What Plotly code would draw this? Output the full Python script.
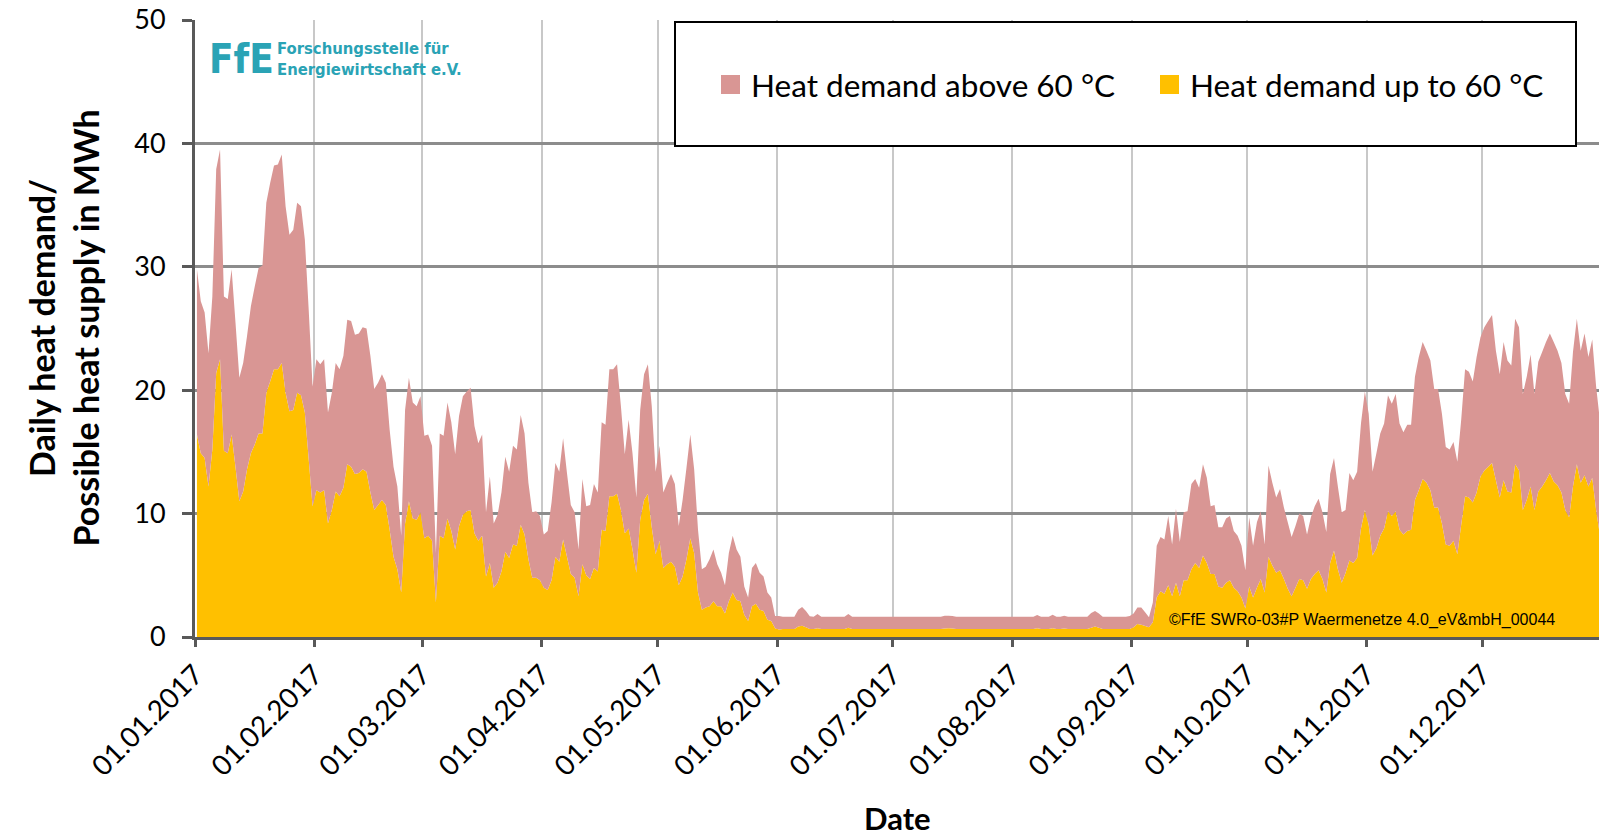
import pandas as pd
import plotly.graph_objects as go

# ---------------------------------------------------------------------------
# Daily heat demand 2017 in MWh, split by supply temperature (one list per month)
# ---------------------------------------------------------------------------
upto60_jan = [16.4, 14.9, 14.5, 12.2, 15.2, 21.4, 22.5, 15.1, 14.9, 16.4, 13.8, 11.0, 11.8, 13.6, 14.9, 15.6,
              16.5, 16.5, 19.8, 20.7, 21.7, 21.7, 22.2, 19.8, 18.3, 18.4, 19.8, 19.6, 18.2, 14.4, 10.6]
upto60_feb = [11.9, 11.7, 11.9, 9.2, 10.3, 11.8, 11.4, 12.1, 14.0, 13.8, 13.2, 13.3, 13.6, 13.4, 11.7, 10.3,
              10.7, 11.1, 10.7, 8.7, 6.5, 5.5, 3.6, 9.2, 11.0, 9.6, 9.5, 10.1]
upto60_mar = [8.0, 8.2, 7.8, 2.8, 8.2, 8.0, 9.6, 8.6, 7.1, 9.0, 9.9, 10.2, 10.3, 8.4, 7.8, 8.2,
              4.9, 6.0, 4.0, 4.4, 5.3, 6.9, 6.4, 7.5, 7.4, 9.1, 8.3, 6.3, 4.8, 4.8, 4.6]
upto60_apr = [4.0, 3.8, 4.6, 6.5, 6.1, 7.9, 6.5, 5.1, 4.8, 3.3, 5.9, 5.0, 4.7, 5.6, 5.3, 8.7,
              8.6, 11.4, 11.4, 11.6, 10.3, 8.4, 8.8, 7.1, 5.2, 9.5, 11.1, 11.6, 8.9, 6.7]
upto60_may = [7.8, 5.6, 5.9, 6.1, 5.7, 4.2, 4.9, 6.3, 8.0, 6.8, 3.6, 2.2, 2.4, 2.5, 2.9, 2.5,
              2.5, 1.9, 2.9, 3.6, 3.0, 2.9, 1.8, 1.3, 2.5, 2.7, 2.2, 2.1, 1.4, 1.3, 0.7]
upto60_jun = [0.6, 0.65, 0.65, 0.65, 0.65, 0.85, 0.92, 0.8, 0.65, 0.65, 0.7, 0.65, 0.65, 0.65, 0.65, 0.65,
              0.65, 0.65, 0.75, 0.65, 0.65, 0.65, 0.65, 0.65, 0.65, 0.65, 0.65, 0.65, 0.65, 0.65]
upto60_jul = [0.65, 0.65, 0.65, 0.65, 0.65, 0.65, 0.65, 0.65, 0.65, 0.65, 0.65, 0.65, 0.65, 0.68, 0.7, 0.68,
              0.65, 0.65, 0.65, 0.65, 0.65, 0.65, 0.65, 0.65, 0.65, 0.65, 0.65, 0.65, 0.65, 0.65, 0.65]
upto60_aug = [0.65, 0.65, 0.65, 0.65, 0.65, 0.65, 0.7, 0.65, 0.65, 0.65, 0.7, 0.65, 0.65, 0.68, 0.65, 0.65,
              0.65, 0.65, 0.65, 0.65, 0.75, 0.86, 0.75, 0.65, 0.65, 0.65, 0.65, 0.65, 0.65, 0.65, 0.65]
upto60_sep = [0.8, 1.05, 1.0, 0.9, 0.8, 1.2, 3.2, 3.7, 3.5, 4.2, 3.3, 4.4, 3.3, 4.6, 4.6, 5.5,
              6.0, 5.6, 6.6, 6.0, 5.1, 5.1, 4.1, 4.0, 4.4, 4.6, 4.0, 3.7, 3.2, 2.3]
upto60_oct = [4.1, 3.2, 4.0, 4.7, 3.6, 6.5, 5.8, 5.2, 5.4, 4.7, 3.9, 3.3, 4.0, 4.7, 4.6, 3.9,
              4.7, 5.1, 5.4, 4.7, 3.6, 6.0, 7.0, 5.5, 4.4, 5.2, 6.2, 6.0, 6.4, 8.8, 10.3]
upto60_nov = [9.1, 6.6, 7.2, 8.2, 8.8, 10.2, 9.8, 10.2, 8.7, 8.3, 8.6, 8.7, 11.1, 11.9, 12.8, 12.5,
              11.9, 10.5, 10.5, 9.2, 7.5, 7.4, 7.8, 6.7, 9.1, 11.4, 11.3, 10.9, 11.7, 13.0]
upto60_dec = [13.5, 13.8, 14.1, 12.7, 11.3, 12.7, 11.8, 11.7, 14.0, 13.5, 10.3, 11.1, 12.2, 10.3, 11.8, 12.2,
              12.7, 13.3, 12.6, 12.3, 11.7, 10.3, 9.7, 12.2, 14.0, 12.5, 13.1, 12.2, 12.9, 10.3, 8.2]

above60_jan = [13.4, 12.3, 11.8, 10.8, 12.4, 16.5, 17.0, 12.5, 12.5, 13.4, 11.7, 10.0, 10.4, 10.8, 11.9, 12.8,
               13.4, 13.6, 15.4, 16.1, 16.5, 16.6, 16.9, 15.1, 14.3, 14.6, 15.4, 15.3, 14.0, 12.1, 9.7]
above60_feb = [10.6, 10.4, 10.6, 9.0, 9.5, 10.4, 10.3, 10.7, 11.7, 11.8, 11.3, 11.3, 11.5, 11.6, 11.1, 9.8,
               9.9, 10.2, 9.9, 8.1, 7.3, 6.7, 4.6, 9.2, 10.0, 9.4, 9.2, 9.4]
above60_mar = [8.3, 8.2, 7.7, 4.0, 8.3, 8.3, 9.4, 8.8, 7.7, 8.9, 9.6, 9.7, 9.9, 8.7, 7.9, 8.2,
               5.2, 7.0, 5.2, 5.5, 6.4, 7.7, 7.0, 8.0, 7.8, 8.9, 8.2, 6.2, 5.3, 5.4, 5.2]
above60_apr = [4.3, 4.8, 6.3, 7.6, 7.3, 8.2, 6.8, 5.6, 5.3, 3.8, 6.9, 5.6, 6.0, 6.8, 6.4, 8.7,
               8.6, 10.3, 10.3, 10.5, 8.4, 6.4, 8.8, 7.8, 6.1, 8.9, 10.2, 10.5, 9.8, 6.7]
above60_may = [7.7, 6.1, 6.6, 7.1, 6.7, 4.8, 6.2, 7.4, 8.4, 6.8, 5.1, 3.3, 3.3, 3.8, 4.2, 3.4,
               2.7, 2.3, 3.9, 4.6, 4.1, 3.6, 2.3, 1.9, 3.1, 3.3, 3.0, 2.8, 2.2, 1.9, 1.0]
above60_jun = [1.1, 1.0, 1.0, 1.0, 1.0, 1.35, 1.52, 1.3, 1.03, 1.0, 1.17, 1.0, 1.0, 1.0, 1.0, 1.0,
               1.0, 1.0, 1.12, 1.0, 1.0, 1.0, 1.0, 1.0, 1.0, 1.0, 1.0, 1.0, 1.0, 1.0]
above60_jul = [1.0, 1.0, 1.0, 1.0, 1.0, 1.0, 1.0, 1.0, 1.0, 1.0, 1.0, 1.0, 1.0, 1.05, 1.03, 1.03,
               1.0, 1.0, 1.0, 1.0, 1.0, 1.0, 1.0, 1.0, 1.0, 1.0, 1.0, 1.0, 1.0, 1.0, 1.0]
above60_aug = [1.0, 1.0, 1.0, 1.0, 1.0, 1.0, 1.09, 1.0, 1.0, 1.0, 1.1, 1.0, 1.0, 1.05, 1.0, 1.0,
               1.0, 1.0, 1.0, 1.0, 1.2, 1.25, 1.15, 1.0, 1.0, 1.0, 1.0, 1.0, 1.0, 1.0, 1.05]
above60_sep = [1.1, 1.35, 1.4, 1.1, 0.8, 1.6, 4.2, 4.4, 4.4, 5.6, 4.2, 6.0, 4.4, 5.5, 5.6, 6.9,
               6.8, 6.5, 7.4, 6.9, 5.5, 5.6, 4.8, 4.9, 5.2, 5.2, 4.6, 4.5, 4.2, 3.1]
above60_oct = [5.6, 4.2, 5.3, 5.5, 3.9, 7.4, 6.7, 6.1, 6.6, 5.8, 5.4, 4.8, 5.0, 5.3, 5.2, 4.4,
               5.0, 5.5, 5.8, 5.4, 4.9, 7.2, 7.5, 6.7, 5.7, 5.1, 7.1, 6.7, 7.0, 8.5, 9.6]
above60_nov = [9.0, 6.8, 7.7, 8.3, 8.5, 9.4, 9.1, 9.5, 8.6, 8.3, 8.6, 8.5, 10.0, 10.8, 11.1, 10.7,
               10.5, 9.6, 9.6, 8.9, 7.9, 7.8, 8.0, 7.5, 8.5, 10.3, 10.2, 9.8, 11.0, 11.3]
above60_dec = [11.6, 11.8, 12.0, 10.5, 10.0, 11.2, 10.6, 10.3, 11.8, 11.6, 9.4, 10.0, 10.7, 9.4, 10.5, 10.9,
               11.2, 11.3, 11.3, 10.9, 10.5, 9.4, 9.2, 10.9, 11.8, 10.7, 11.5, 10.5, 11.2, 10.0, 9.3]

month_ticks = ["2017-01-01", "2017-02-01", "2017-03-01", "2017-04-01", "2017-05-01", "2017-06-01",
               "2017-07-01", "2017-08-01", "2017-09-01", "2017-10-01", "2017-11-01", "2017-12-01"]
month_labels = ["01.01.2017", "01.02.2017", "01.03.2017", "01.04.2017", "01.05.2017", "01.06.2017",
                "01.07.2017", "01.08.2017", "01.09.2017", "01.10.2017", "01.11.2017", "01.12.2017"]
y_ticks = [0, 10, 20, 30, 40, 50]

series_names = ["Heat demand above 60 °C", "Heat demand up to 60 °C"]

upto60 = (upto60_jan + upto60_feb + upto60_mar + upto60_apr + upto60_may + upto60_jun
          + upto60_jul + upto60_aug + upto60_sep + upto60_oct + upto60_nov + upto60_dec)
above60 = (above60_jan + above60_feb + above60_mar + above60_apr + above60_may + above60_jun
           + above60_jul + above60_aug + above60_sep + above60_oct + above60_nov + above60_dec)

# each daily value sits in the middle of its day
days = pd.date_range("2017-01-01 12:00", periods=len(upto60), freq="D")

# ---------------------------------------------------------------------------
# Layout helpers (pixel -> paper coordinates)
# ---------------------------------------------------------------------------
W, H = 1599, 836
ML, MR, MT, MB = 195, 0, 20, 199
PW, PH = W - ML - MR, H - MT - MB


def px(x):
    return (x - ML) / PW


def py(y):
    return (H - MB - y) / PH


FONT = "Lato, 'Open Sans', sans-serif"
LOGO_FONT = "'Liberation Sans Narrow', 'DejaVu Sans Condensed', 'Roboto', sans-serif"
PINK = "#D99694"
YELLOW = "#FFC000"
AXIS = "#595959"
TEAL = "#2AA3B5"

fig = go.Figure()
fig.add_trace(go.Scatter(x=days, y=upto60, name=series_names[1], stackgroup="demand",
                         mode="none", fillcolor=YELLOW, showlegend=False))
fig.add_trace(go.Scatter(x=days, y=above60, name=series_names[0], stackgroup="demand",
                         mode="none", fillcolor=PINK, showlegend=False))

fig.update_xaxes(
    type="date", range=["2017-01-01", "2017-12-31 06:00"],
    tickmode="array", tickvals=month_ticks, ticktext=month_labels, tickangle=-45,
    tickfont=dict(family=FONT, size=28, color="black"),
    showgrid=True, gridcolor="#C8C8C8", gridwidth=1.5,
    showline=True, linecolor=AXIS, linewidth=3,
    ticks="outside", ticklen=7, tickwidth=3, tickcolor=AXIS,
    zeroline=False, fixedrange=True,
)
fig.update_yaxes(
    range=[0, 50], tickmode="array", tickvals=y_ticks,
    tickfont=dict(family=FONT, size=27, color="black"),
    ticklabelstandoff=11,
    showgrid=True, gridcolor="#8C8C8C", gridwidth=2.5,
    showline=True, linecolor=AXIS, linewidth=3,
    ticks="outside", ticklen=10, tickwidth=3, tickcolor=AXIS,
    zeroline=False, fixedrange=True,
)

shapes = [
    # legend frame
    dict(type="rect", xref="paper", yref="paper", x0=px(675), x1=px(1576), y0=py(146), y1=py(22),
         line=dict(color="black", width=2), fillcolor="white", layer="above"),
    # legend swatches
    dict(type="rect", xref="paper", yref="paper", x0=px(721), x1=px(740), y0=py(94), y1=py(75),
         line=dict(width=0), fillcolor=PINK, layer="above"),
    dict(type="rect", xref="paper", yref="paper", x0=px(1160), x1=px(1179), y0=py(94), y1=py(75),
         line=dict(width=0), fillcolor=YELLOW, layer="above"),
]

annotations = [
    dict(text="<b>Daily heat demand/<br>Possible heat supply in MWh</b>", textangle=-90,
         xref="paper", yref="paper", x=px(63), y=0.5, xanchor="center", yanchor="middle",
         showarrow=False, font=dict(family=FONT, size=34, color="black")),
    dict(text="<b>Date</b>", xref="paper", yref="paper", x=0.5, y=py(818),
         xanchor="center", yanchor="middle", showarrow=False,
         font=dict(family=FONT, size=31, color="black")),
    dict(text=series_names[0], xref="paper", yref="paper", x=px(749), y=py(85),
         xanchor="left", yanchor="middle", showarrow=False,
         font=dict(family=FONT, size=31.5, color="black")),
    dict(text=series_names[1], xref="paper", yref="paper", x=px(1188), y=py(85),
         xanchor="left", yanchor="middle", showarrow=False,
         font=dict(family=FONT, size=31.5, color="black")),
    # institute logo
    dict(text="<b>FfE</b>", xref="paper", yref="paper", x=px(207), y=py(59),
         xanchor="left", yanchor="middle", showarrow=False,
         font=dict(family=LOGO_FONT, size=40, color=TEAL)),
    dict(text="<b>Forschungsstelle für<br>Energiewirtschaft e.V.</b>", xref="paper", yref="paper",
         x=px(275), y=py(59), xanchor="left", yanchor="middle", align="left", showarrow=False,
         font=dict(family=LOGO_FONT, size=16.5, color=TEAL)),
    # copyright note
    dict(text="©FfE SWRo-03#P Waermenetze 4.0_eV&mbH_00044", xref="paper", yref="paper",
         x=px(1167), y=py(620), xanchor="left", yanchor="middle", showarrow=False,
         font=dict(family="'Liberation Sans', Arial, sans-serif", size=16, color="black")),
]

fig.update_layout(
    width=W, height=H, autosize=False,
    margin=dict(l=ML, r=MR, t=MT, b=MB, pad=0),
    paper_bgcolor="white", plot_bgcolor="white",
    shapes=shapes, annotations=annotations,
    showlegend=False, hovermode=False,
)

fig.write_html("out.html")
